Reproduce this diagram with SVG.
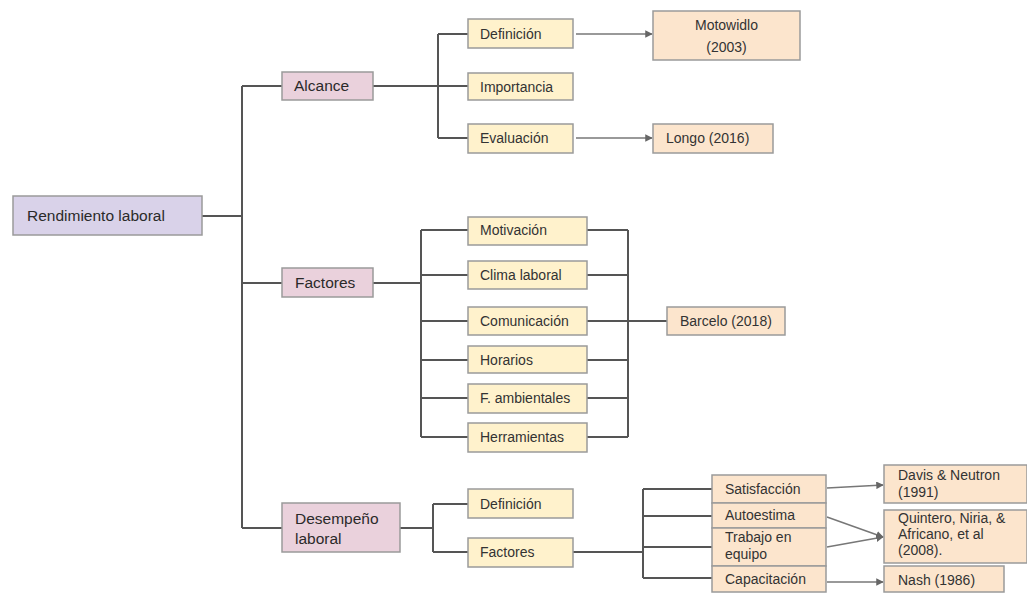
<svg xmlns="http://www.w3.org/2000/svg" width="1027" height="593" viewBox="0 0 1027 593">
<style>
rect{stroke:#9a9a9a;stroke-width:1.5}
rect.bg{fill:#fff;stroke:none}
.root{fill:#d9d2e9}
.pink{fill:#ead1dc}
.yel{fill:#fff2cc}
.org{fill:#fce5cd}
text{font-family:"Liberation Sans",Arial,sans-serif;fill:#333;font-size:14px}
.big{font-size:15.5px;fill:#2a2a2a}
.tree{fill:none;stroke:#555;stroke-width:2}
.arr{fill:none;stroke:#777;stroke-width:1.5;marker-end:url(#ah)}
</style>
<defs>
<marker id="ah" viewBox="0 0 10 10" refX="9" refY="5" markerWidth="5" markerHeight="5" orient="auto" markerUnits="strokeWidth">
<path d="M0,0 L10,5 L0,10 z" fill="#666"/>
</marker>
</defs>
<rect class="bg" width="1027" height="593"/>
<g id="connectors">
<path class="tree" d="M202,216 H242 M242,86 V528 M242,86 H282 M242,283 H282 M242,528 H282"/>
<path class="tree" d="M373,86 H468 M438,34 V138 M438,34 H468 M438,138 H468"/>
<path class="tree" d="M373,283 H421 M421,230 V437 M421,230 H468 M421,275 H468 M421,321 H468 M421,360 H468 M421,398 H468 M421,437 H468"/>
<path class="tree" d="M587,230 H628 M587,275 H628 M587,321 H628 M587,360 H628 M587,398 H628 M587,437 H628 M628,230 V437 M628,321 H667"/>
<path class="tree" d="M400,528 H433 M433,504 V552 M433,504 H468 M433,552 H468"/>
<path class="tree" d="M573,552 H643 M643,489 V578 M643,489 H712 M643,516 H712 M643,547 H712 M643,578 H712"/>
<path class="arr" d="M576,34 H652"/>
<path class="arr" d="M576,138 H652"/>
<path class="arr" d="M827,488 L883,485"/>
<path class="arr" d="M827,517 L883,537"/>
<path class="arr" d="M827,547 L883,537"/>
<path class="arr" d="M827,582 H883"/>
</g>
<g id="n-rendimiento"><rect class="root" x="13" y="196" width="189" height="39"/><text class="big" x="27" y="221">Rendimiento laboral</text></g>
<g id="n-alcance"><rect class="pink" x="282" y="72" width="91" height="28"/><text class="big" x="294" y="91">Alcance</text></g>
<g id="n-factores"><rect class="pink" x="282" y="268" width="91" height="29"/><text class="big" x="295" y="288">Factores</text></g>
<g id="n-desempeno"><rect class="pink" x="282" y="503" width="118" height="49"/><text class="big" x="295" y="524">Desempeño</text><text class="big" x="295" y="544">laboral</text></g>
<g id="n-definicion1"><rect class="yel" x="468" y="19" width="105" height="29"/><text x="480" y="39">Definición</text></g>
<g id="n-importancia"><rect class="yel" x="468" y="73" width="105" height="27"/><text x="480" y="92">Importancia</text></g>
<g id="n-evaluacion"><rect class="yel" x="468" y="124" width="105" height="29"/><text x="480" y="143">Evaluación</text></g>
<g id="n-motowidlo"><rect class="org" x="653" y="11" width="147" height="49"/><text x="726.5" y="30" text-anchor="middle">Motowidlo</text><text x="726.5" y="52" text-anchor="middle">(2003)</text></g>
<g id="n-longo"><rect class="org" x="653" y="124" width="120" height="29"/><text x="666" y="143">Longo (2016)</text></g>
<g id="n-motivacion"><rect class="yel" x="468" y="217" width="119" height="28"/><text x="480" y="235">Motivación</text></g>
<g id="n-clima"><rect class="yel" x="468" y="261" width="119" height="28"/><text x="480" y="280">Clima laboral</text></g>
<g id="n-comunicacion"><rect class="yel" x="468" y="307" width="119" height="28"/><text x="480" y="326">Comunicación</text></g>
<g id="n-horarios"><rect class="yel" x="468" y="346" width="119" height="27"/><text x="480" y="365">Horarios</text></g>
<g id="n-fambientales"><rect class="yel" x="468" y="384" width="119" height="29"/><text x="480" y="403">F. ambientales</text></g>
<g id="n-herramientas"><rect class="yel" x="468" y="423" width="119" height="29"/><text x="480" y="442">Herramientas</text></g>
<g id="n-barcelo"><rect class="org" x="667" y="307" width="118" height="28"/><text x="680" y="326">Barcelo (2018)</text></g>
<g id="n-definicion2"><rect class="yel" x="468" y="489" width="105" height="29"/><text x="480" y="509">Definición</text></g>
<g id="n-factores2"><rect class="yel" x="468" y="538" width="105" height="29"/><text x="480" y="557">Factores</text></g>
<g id="n-satisfaccion"><rect class="org" x="712" y="475" width="114" height="28"/><text x="725" y="494">Satisfacción</text></g>
<g id="n-autoestima"><rect class="org" x="712" y="503" width="114" height="25"/><text x="725" y="520">Autoestima</text></g>
<g id="n-trabajo"><rect class="org" x="712" y="528" width="114" height="38"/><text x="725" y="542">Trabajo en</text><text x="725" y="559">equipo</text></g>
<g id="n-capacitacion"><rect class="org" x="712" y="566" width="114" height="26"/><text x="725" y="584">Capacitación</text></g>
<g id="n-davis"><rect class="org" x="884" y="465" width="143" height="38"/><text x="898" y="480">Davis &amp; Neutron</text><text x="898" y="497">(1991)</text></g>
<g id="n-quintero"><rect class="org" x="884" y="510" width="143" height="53"/><text x="898" y="523">Quintero, Niria, &amp;</text><text x="898" y="539">Africano, et al</text><text x="898" y="555">(2008).</text></g>
<g id="n-nash"><rect class="org" x="884" y="566" width="120" height="26"/><text x="898" y="585">Nash (1986)</text></g>
</svg>
